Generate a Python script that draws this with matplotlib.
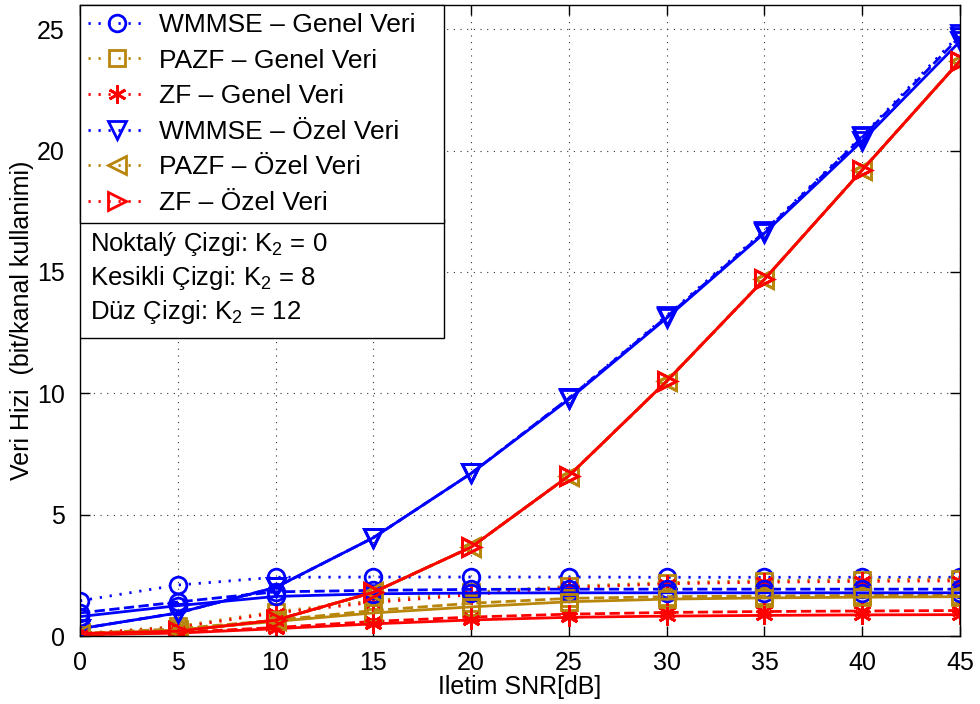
import matplotlib
matplotlib.use("Agg")
import matplotlib.pyplot as plt
from matplotlib.patches import Rectangle

plt.rcParams["font.family"] = ["Liberation Sans", "DejaVu Sans"]
plt.rcParams["mathtext.fontset"] = "custom"
plt.rcParams["mathtext.rm"] = "Liberation Sans"
plt.rcParams["mathtext.it"] = "Liberation Sans:italic"

snr = [0, 5, 10, 15, 20, 25, 30, 35, 40, 45]

# Genel Veri (common data), K2 = 0 / 8 / 12
wmmse_gen_k0 = [1.45, 2.10, 2.42, 2.43, 2.43, 2.43, 2.42, 2.42, 2.42, 2.42]
wmmse_gen_k8 = [0.95, 1.40, 1.82, 1.88, 1.92, 1.93, 1.93, 1.93, 1.93, 1.93]
wmmse_gen_k12 = [0.80, 1.25, 1.63, 1.74, 1.77, 1.78, 1.78, 1.78, 1.78, 1.78]
pazf_gen_k0 = [0.10, 0.40, 1.00, 1.45, 1.80, 2.05, 2.20, 2.28, 2.32, 2.35]
pazf_gen_k8 = [0.10, 0.30, 0.65, 1.05, 1.35, 1.55, 1.62, 1.65, 1.67, 1.68]
pazf_gen_k12 = [0.05, 0.25, 0.60, 0.95, 1.20, 1.41, 1.52, 1.57, 1.60, 1.62]
zf_gen_k0 = [0.10, 0.35, 0.95, 1.38, 1.70, 2.00, 2.15, 2.22, 2.25, 2.27]
zf_gen_k8 = [0.05, 0.15, 0.35, 0.60, 0.78, 0.90, 0.97, 1.01, 1.03, 1.05]
zf_gen_k12 = [0.05, 0.12, 0.30, 0.50, 0.66, 0.77, 0.82, 0.85, 0.87, 0.88]

# Ozel Veri (private data), K2 = 0 / 8 / 12
wmmse_oz_k0 = [0.30, 0.95, 2.00, 4.05, 6.70, 9.80, 13.20, 16.70, 20.60, 24.80]
wmmse_oz_k8 = [0.30, 0.95, 2.00, 4.05, 6.70, 9.80, 13.15, 16.65, 20.55, 24.70]
wmmse_oz_k12 = [0.30, 0.95, 2.00, 4.05, 6.70, 9.75, 13.10, 16.60, 20.40, 24.50]
pazf_oz_k0 = [0.10, 0.20, 0.65, 1.80, 3.66, 6.60, 10.50, 14.70, 19.20, 23.70]
pazf_oz_k8 = [0.10, 0.20, 0.65, 1.80, 3.66, 6.60, 10.50, 14.70, 19.20, 23.70]
pazf_oz_k12 = [0.10, 0.20, 0.65, 1.80, 3.66, 6.60, 10.50, 14.70, 19.20, 23.70]
zf_oz_k0 = [0.10, 0.20, 0.65, 1.80, 3.66, 6.60, 10.50, 14.70, 19.20, 23.70]
zf_oz_k8 = [0.10, 0.20, 0.65, 1.80, 3.66, 6.60, 10.50, 14.70, 19.20, 23.70]
zf_oz_k12 = [0.10, 0.20, 0.65, 1.80, 3.66, 6.60, 10.50, 14.70, 19.20, 23.70]

labels = ["WMMSE \u2013 Genel Veri", "PAZF \u2013 Genel Veri", "ZF \u2013 Genel Veri",
          "WMMSE \u2013 \u00d6zel Veri", "PAZF \u2013 \u00d6zel Veri", "ZF \u2013 \u00d6zel Veri"]
box_lines = ["Noktal\u00fd \u00c7izgi: K$_2$ = 0",
             "Kesikli \u00c7izgi: K$_2$ = 8",
             "D\u00fcz \u00c7izgi: K$_2$ = 12"]

BLUE = "#0000FF"
BROWN = "#B8860B"
RED = "#FF0000"
ASTERISK = (6, 2, 0)
styles = [(BLUE, "o"), (BROWN, "s"), (RED, ASTERISK),
          (BLUE, "v"), (BROWN, "<"), (RED, ">")]

DOTTED = (0, (0.8, 2.8))
groups = [
    (DOTTED, [wmmse_gen_k0, pazf_gen_k0, zf_gen_k0, wmmse_oz_k0, pazf_oz_k0, zf_oz_k0]),
    ("--", [wmmse_gen_k8, pazf_gen_k8, zf_gen_k8, wmmse_oz_k8, pazf_oz_k8, zf_oz_k8]),
    ("-", [wmmse_gen_k12, pazf_gen_k12, zf_gen_k12, wmmse_oz_k12, pazf_oz_k12, zf_oz_k12]),
]

FS = 18
fig = plt.figure(figsize=(9.8, 7.04), dpi=100)
ax = fig.add_axes([80 / 980, 68 / 704, 880 / 980, 631 / 704])

handles = []
for ls, series in groups:
    for (color, marker), vals, lab in zip(styles, series, labels):
        ms = 12 if marker in ("o", "s") else 13
        mfc = color if marker == ASTERISK else "none"
        h, = ax.plot(snr, vals, linestyle=ls, color=color, lw=2, marker=marker,
                     markersize=ms, markerfacecolor=mfc, markeredgecolor=color,
                     markeredgewidth=2, label=lab)
        if ls is DOTTED:
            handles.append(h)

ax.set_xlim(0, 45)
ax.set_ylim(0, 26)
ax.set_xticks(snr)
ax.set_yticks([0, 5, 10, 15, 20, 25])
ax.grid(True, linestyle=(0, (1, 5)), color="0.2", lw=0.8)
ax.tick_params(direction="in", length=7, width=1, top=True, right=True,
               labelsize=FS, pad=11)
for s in ax.spines.values():
    s.set_linewidth(1)
ax.set_xlabel("Iletim SNR[dB]", fontsize=FS, labelpad=0)
ax.set_ylabel("Veri Hizi  (bit/kanal kullanimi)", fontsize=FS, labelpad=2)

leg_w = (444 - 80) / 880
leg = ax.legend(handles=handles, loc="upper left", bbox_to_anchor=(0, 0, leg_w, 1),
                mode="expand", borderaxespad=0, fontsize=19, fancybox=False,
                framealpha=1, edgecolor="black", handlelength=2.2,
                handletextpad=0.5, labelspacing=0.44, borderpad=0.3)
leg.get_frame().set_linewidth(1)

# K2 annotation box
y_top = (704 - 219 - 68) / 631
y_bot = (704 - 338 - 68) / 631
ax.add_patch(Rectangle((0, y_bot), leg_w, y_top - y_bot, transform=ax.transAxes,
                       facecolor="white", edgecolor="black", lw=1, zorder=5))
for i, t in enumerate(box_lines):
    ax.text((90 - 80) / 880, (704 - 251 - 68) / 631 - i * 34 / 631, t,
            transform=ax.transAxes, fontsize=18.5, va="baseline", ha="left",
            zorder=6)

fig.savefig("out.png", dpi=100)
